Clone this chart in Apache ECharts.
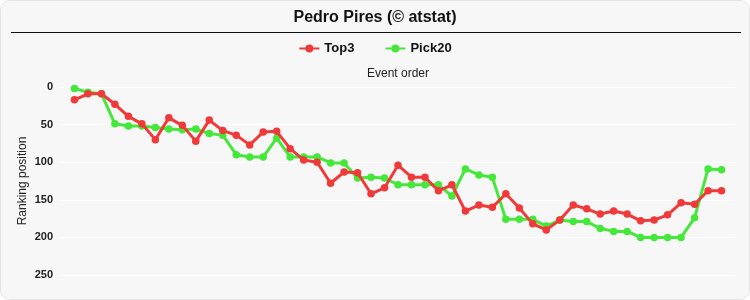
<!DOCTYPE html>
<html>
<head>
<meta charset="utf-8">
<script src="https://cdn.jsdelivr.net/npm/echarts@6/dist/echarts.min.js"></script>
<style>
html,body{margin:0;padding:0;background:#ffffff;}
#wrap{position:absolute;left:0;top:0;width:748px;height:298px;border:1px solid #e4e4e4;border-radius:10px;overflow:hidden;background:#f7f7f7;}
#chart{width:748px;height:298px;}
</style>
</head>
<body>
<div id="wrap"><div id="chart"></div></div>
<script>
const titleText = 'Pedro Pires (© atstat)';
const seriesNames = ['Top3', 'Pick20'];
const yTicks = [0, 50, 100, 150, 200, 250];
const top3 = [17, 9, 9, 23, 39, 49, 70, 41, 51, 72, 44, 58, 64, 77, 60, 59, 82, 97, 100, 128, 113, 114, 142, 134, 104, 120, 120, 138, 130, 165, 157, 160, 142, 161, 182, 190, 177, 157, 162, 169, 165, 169, 178, 177, 170, 154, 156, 138, 138];
const pick20 = [2, 7, 9, 49, 52, 52, 54, 56, 57, 56, 62, 64, 90, 93, 93, 68, 93, 93, 93, 101, 101, 121, 120, 121, 130, 130, 130, 130, 145, 109, 117, 120, 176, 176, 176, 185, 177, 179, 179, 188, 192, 192, 200, 200, 200, 200, 174, 109, 110];

const chart = echarts.init(document.getElementById('chart'), null, {renderer: 'canvas'});
const toPts = arr => arr.map((v, i) => [i + 1, v]);
const font = 'Arial, "Liberation Sans", sans-serif';

chart.setOption({
  backgroundColor: '#f7f7f7',
  animation: false,
  textStyle: {fontFamily: font},
  title: {
    text: titleText, left: 'center', top: 4,
    textStyle: {fontSize: 16, fontWeight: 'bold', color: '#111', fontFamily: font}
  },
  graphic: [{
    type: 'line', shape: {x1: 10, y1: 31.5, x2: 740, y2: 31.5},
    style: {stroke: '#111', lineWidth: 1}
  }],
  legend: {
    data: seriesNames, top: 36, left: 'center', itemGap: 30, itemWidth: 20, itemHeight: 10,
    textStyle: {fontSize: 13, fontWeight: 'bold', color: '#111', fontFamily: font}
  },
  grid: {left: 60, right: 14, top: 86, bottom: 24},
  xAxis: {
    type: 'value', position: 'top', min: 0, max: 50,
    name: 'Event order', nameLocation: 'middle', nameGap: 7,
    nameTextStyle: {fontSize: 12, color: '#222', fontFamily: font},
    axisLine: {show: false}, axisTick: {show: false}, axisLabel: {show: false},
    splitLine: {show: false}
  },
  yAxis: {
    type: 'value', inverse: true, min: yTicks[0], max: yTicks[yTicks.length - 1], interval: 50,
    name: 'Ranking position', nameLocation: 'middle', nameGap: 32, nameRotate: 90,
    nameMoveOverlap: false,
    nameTextStyle: {fontSize: 12, color: '#222', fontFamily: font},
    axisLine: {show: false}, axisTick: {show: false},
    axisLabel: {fontSize: 11, fontWeight: 'bold', color: '#222', margin: 8, fontFamily: font},
    splitLine: {show: true, lineStyle: {color: '#ffffff', width: 1}}
  },
  series: [
    {
      name: 'Pick20', type: 'line', data: toPts(pick20), z: 2,
      symbol: 'circle', symbolSize: 7.5,
      lineStyle: {width: 3, color: '#45e83a'},
      itemStyle: {color: '#45e83a'}
    },
    {
      name: 'Top3', type: 'line', data: toPts(top3), z: 3,
      symbol: 'circle', symbolSize: 7.5,
      lineStyle: {width: 3, color: '#f03a3a'},
      itemStyle: {color: '#f03a3a'}
    }
  ]
});
</script>
</body>
</html>
